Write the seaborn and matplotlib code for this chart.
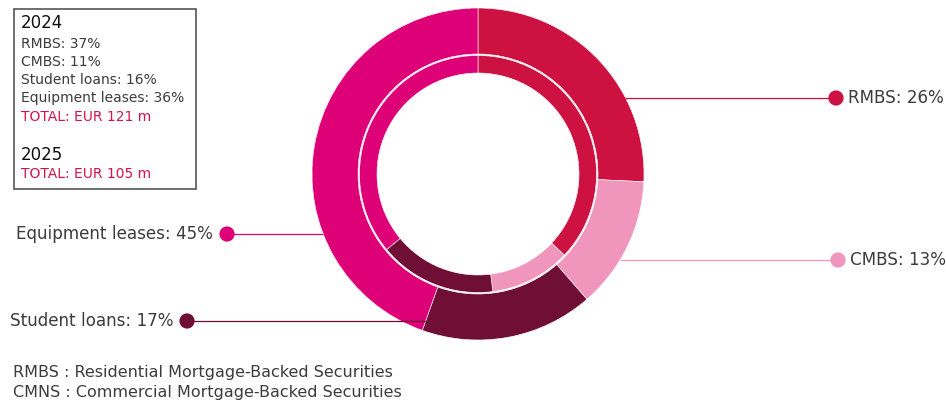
import matplotlib
matplotlib.use("Agg")
import matplotlib.pyplot as plt
import seaborn as sns
import pandas as pd
from matplotlib.patches import Rectangle

# Portfolio composition by asset class
categories = ["RMBS", "CMBS", "Student loans", "Equipment leases"]
share_2025 = [26, 13, 17, 45]   # outer ring
share_2024 = [37, 11, 16, 36]   # inner ring
total_2024 = "EUR 121 m"
total_2025 = "EUR 105 m"
footnotes = ["RMBS : Residential Mortgage-Backed Securities",
             "CMNS : Commercial Mortgage-Backed Securities"]

colors = ["#CD1241", "#F096BC", "#6F0F36", "#DE0077"]
accent = "#D3134A"
text_grey = "#3C3C3C"

sns.set_theme(style="white")
plt.rcParams["font.family"] = ["DejaVu Sans"]

W, H = 946, 401
fig = plt.figure(figsize=(W / 100, H / 100), dpi=100)
ax = fig.add_axes([0, 0, 1, 1])


def py(y):
    """Convert a top-down pixel row into the axes' upward y coordinate."""
    return H - y


cx, cy = 478, py(174)
r_out, w_out = 166, 46
r_in, w_in = 118.5, 17.5

ax.pie(share_2025, radius=r_out, center=(cx, cy), startangle=90,
       counterclock=False, colors=colors,
       wedgeprops=dict(width=w_out, edgecolor="white", linewidth=0.4))
ax.pie(share_2024, radius=r_in, center=(cx, cy), startangle=90,
       counterclock=False, colors=colors,
       wedgeprops=dict(width=w_in, edgecolor="white", linewidth=0.4))

ax.set_xlim(0, W)
ax.set_ylim(0, H)
ax.set_aspect("equal")
ax.axis("off")

# Callouts for the 2025 ring: leader line, marker dot and label
callouts = pd.DataFrame({
    "category": categories,
    "dot_x": [836, 838, 187, 227],
    "dot_y": [py(98), py(260), py(321), py(234)],
    "line_end": [625, 620, 427, 323],
    "side": ["right", "right", "left", "left"],
})
for _, row in callouts.iterrows():
    i = categories.index(row["category"])
    ax.plot([row["dot_x"], row["line_end"]], [row["dot_y"], row["dot_y"]],
            color=colors[i], lw=0.9, zorder=3, solid_capstyle="butt")
    label = f"{row['category']}: {share_2025[i]}%"
    if row["side"] == "right":
        ax.text(row["dot_x"] + 12, row["dot_y"], label, ha="left", va="center",
                fontsize=12.1, color=text_grey, zorder=5)
    else:
        ax.text(row["dot_x"] - 14, row["dot_y"], label, ha="right", va="center",
                fontsize=12.1, color=text_grey, zorder=5)

sns.scatterplot(data=callouts, x="dot_x", y="dot_y", hue="category",
                palette=dict(zip(categories, colors)), s=120, linewidth=0,
                legend=False, ax=ax, zorder=6)
ax.set_xlabel("")
ax.set_ylabel("")
ax.set_xlim(0, W)
ax.set_ylim(0, H)

# 2024 breakdown box
ax.add_patch(Rectangle((14, py(189)), 182, 180, fill=False,
                       edgecolor="#555555", lw=1.2, zorder=4))
ax.text(21, py(28), "2024", fontsize=12, color="#111111", va="baseline")
y = 48
for cat, val in zip(categories, share_2024):
    ax.text(21, py(y), f"{cat}: {val}%", fontsize=10.0, color=text_grey,
            va="baseline")
    y += 18
ax.text(21, py(121), f"TOTAL: {total_2024}", fontsize=10.0, color=accent,
        va="baseline")
ax.text(21, py(160), "2025", fontsize=12, color="#111111", va="baseline")
ax.text(21, py(178), f"TOTAL: {total_2025}", fontsize=10.0, color=accent,
        va="baseline")

# Abbreviation notes
for k, note in enumerate(footnotes):
    ax.text(13, py(377 + 20 * k), note, fontsize=11.5, color=text_grey,
            va="baseline")

fig.savefig("out.png", dpi=100)
